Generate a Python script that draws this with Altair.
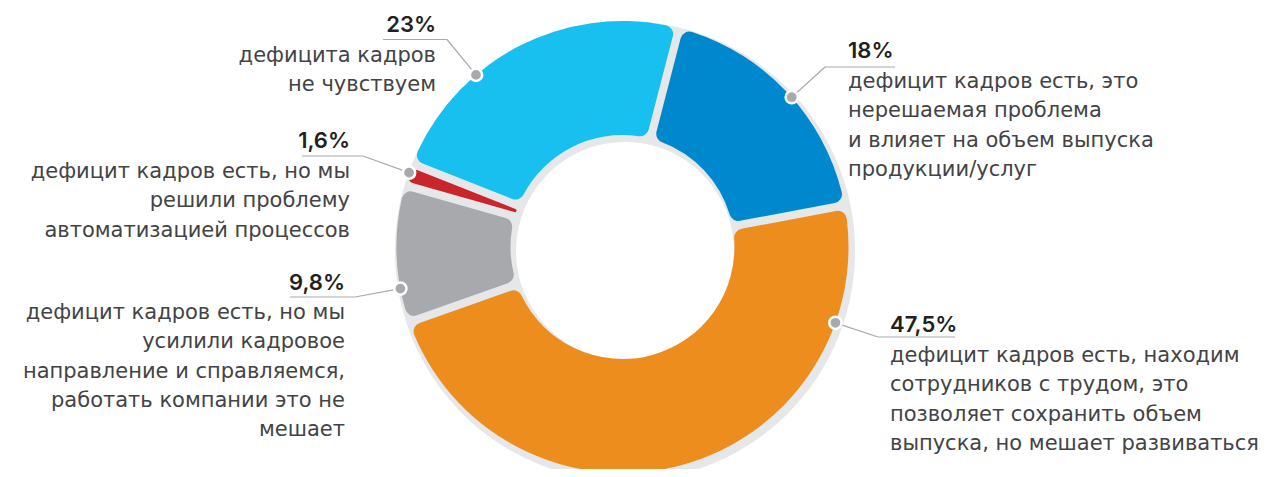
import math
import altair as alt
import pandas as pd

# ---------------- data ----------------
values = [18.0, 47.5, 9.8, 1.6, 23.0]
pct_labels = ["18%", "47,5%", "9,8%", "1,6%", "23%"]
descriptions = [
    "дефицит кадров есть, это\nнерешаемая проблема\nи влияет на объем выпуска\nпродукции/услуг",
    "дефицит кадров есть, находим\nсотрудников с трудом, это\nпозволяет сохранить объем\nвыпуска, но мешает развиваться",
    "дефицит кадров есть, но мы\nусилили кадровое\nнаправление и справляемся,\nработать компании это не\nмешает",
    "дефицит кадров есть, но мы\nрешили проблему\nавтоматизацией процессов",
    "дефицита кадров\nне чувствуем",
]
colors = ["#0088CE", "#EC8D1E", "#A7A9AC", "#C9252C", "#18C0F0"]

# ---------------- layout (annotation placement, pixels) ----------------
W, H = 1252, 461
CX, CY = 614.5, 239.0          # ring centre
R_IN, R_OUT = 112, 226
START = math.radians(14.5)     # first slice starts slightly right of 12 o'clock
dot_angle_deg = [48.5, 109.6, 259.4, 289.2, 319.6]
elbow_x = [817, 870, 347, 355, 439]
elbow_y = [59, 329, 289, 148, 31.5]
line_end_x = [887, 947, 282, 294, 375]
text_x = [840, 882, 337, 342, 428]
pct_y = [50, 324, 282, 140, 24]
body_y = [80, 354, 311, 170, 54]
side = ["left", "left", "right", "right", "right"]

df = pd.DataFrame({
    "idx": list(range(len(values))),
    "value": values,
    "pct": pct_labels,
    "desc": descriptions,
    "color": colors,
    "ang": dot_angle_deg,
    "ex": elbow_x,
    "ey": elbow_y,
    "lx": line_end_x,
    "tx": text_x,
    "py": pct_y,
    "by": body_y,
    "side": side,
})

base = alt.Chart(df)

shadow = alt.Chart(pd.DataFrame({"v": [1]})).mark_arc(
    innerRadius=109, outerRadius=230, theta=0, theta2=2 * math.pi, color="#E6E7E8"
).encode(x=alt.value(CX + 2.5), y=alt.value(CY + 4))

slices = base.mark_arc(
    innerRadius=R_IN, outerRadius=R_OUT, cornerRadius=9, padAngle=0.032
).encode(
    theta=alt.Theta("value:Q", stack=True,
                    scale=alt.Scale(range=[START, START + 2 * math.pi])),
    order=alt.Order("idx:Q"),
    color=alt.Color("color:N", scale=None, legend=None),
    x=alt.value(CX), y=alt.value(CY),
)

pos = base.transform_calculate(
    dx=f"{CX} + {R_OUT} * sin(datum.ang * PI / 180)",
    dy=f"{CY} - {R_OUT} * cos(datum.ang * PI / 180)",
)

leader = pos.mark_rule(color="#A7A9AC", strokeWidth=1.2).encode(
    x=alt.X("dx:Q", scale=None), y=alt.Y("dy:Q", scale=None),
    x2="ex:Q", y2="ey:Q",
)
underline = base.mark_rule(color="#A7A9AC", strokeWidth=1.2).encode(
    x=alt.X("ex:Q", scale=None), y=alt.Y("ey:Q", scale=None),
    x2="lx:Q", y2="ey:Q",
)
dots = pos.mark_circle(size=150, color="#A7A9AC", opacity=1,
                       stroke="white", strokeWidth=2.5).encode(
    x=alt.X("dx:Q", scale=None), y=alt.Y("dy:Q", scale=None),
)

def texts(al):
    sub = base.transform_filter(alt.datum.side == al)
    num = sub.mark_text(align=al, baseline="alphabetic", font="Inter",
                        fontSize=22, fontWeight=600, color="#231F20").encode(
        x=alt.X("tx:Q", scale=None), y=alt.Y("py:Q", scale=None), text="pct:N")
    body = sub.mark_text(align=al, baseline="alphabetic", font="DejaVu Sans",
                         fontSize=21, color="#434345", lineBreak="\n",
                         lineHeight=29.3).encode(
        x=alt.X("tx:Q", scale=None), y=alt.Y("by:Q", scale=None), text="desc:N")
    return [num, body]

chart = alt.layer(
    shadow, slices, leader, underline, dots, *texts("left"), *texts("right")
).properties(
    width=W, height=H, padding=0, autosize="none"
).configure_view(stroke=None)

chart.save("out.html", embed_options={"renderer": "svg", "actions": False})
